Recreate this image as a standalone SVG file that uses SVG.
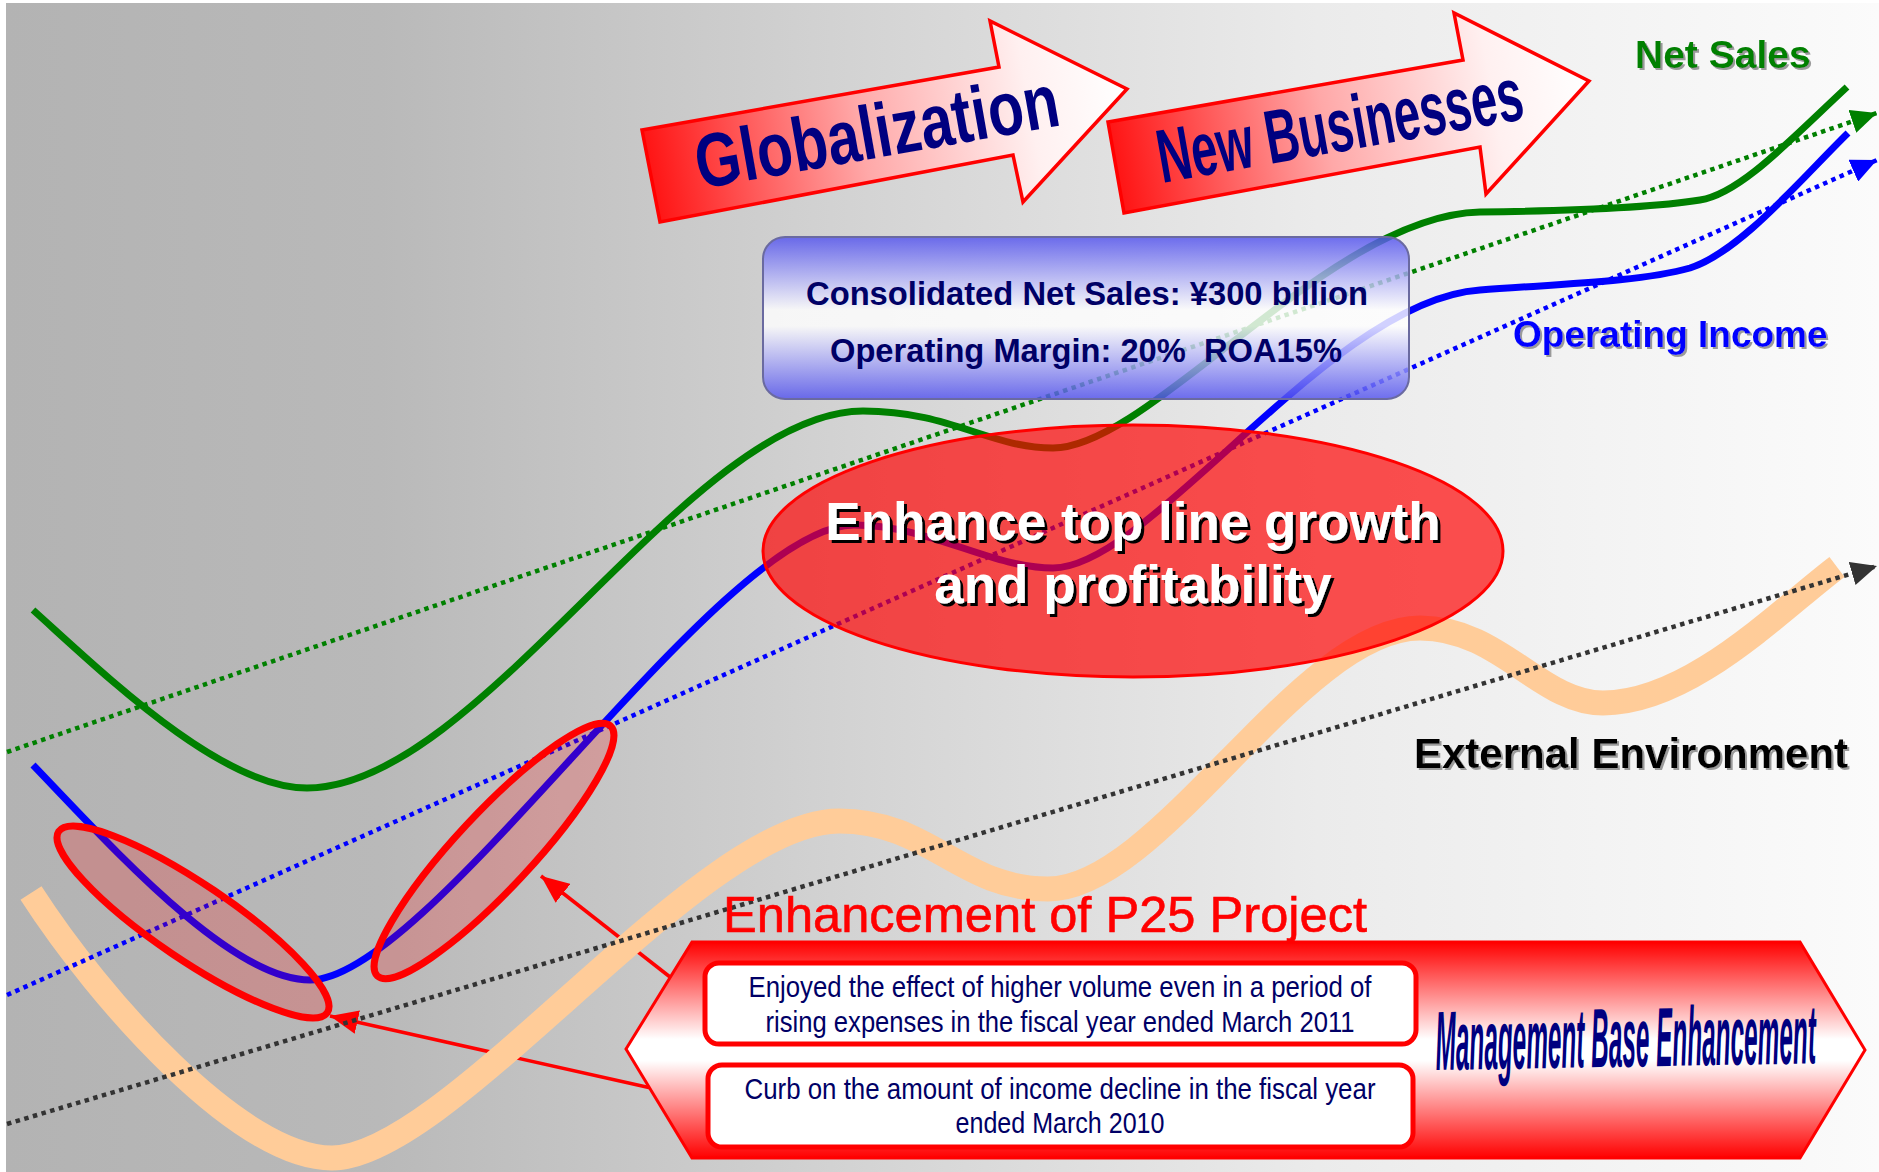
<svg xmlns="http://www.w3.org/2000/svg" width="1879" height="1172" viewBox="0 0 1879 1172">
<defs>
<linearGradient id="bg" x1="0" y1="0" x2="1" y2="0">
<stop offset="0" stop-color="#b3b3b3"/><stop offset="0.2" stop-color="#b9b9b9"/><stop offset="0.45" stop-color="#d3d3d3"/><stop offset="0.7" stop-color="#ebebeb"/><stop offset="1" stop-color="#fbfbfb"/>
</linearGradient>
<linearGradient id="arrG1" gradientUnits="userSpaceOnUse" x1="645" y1="180" x2="1127" y2="95">
<stop offset="0" stop-color="#ff1010"/><stop offset="0.45" stop-color="#ffa8a8"/><stop offset="0.8" stop-color="#fff0f0"/><stop offset="1" stop-color="#ffffff"/>
</linearGradient>
<linearGradient id="arrG2" gradientUnits="userSpaceOnUse" x1="1110" y1="170" x2="1589" y2="81">
<stop offset="0" stop-color="#ff1010"/><stop offset="0.45" stop-color="#ffa8a8"/><stop offset="0.8" stop-color="#fff0f0"/><stop offset="1" stop-color="#ffffff"/>
</linearGradient>
<linearGradient id="boxG" x1="0" y1="0" x2="0" y2="1">
<stop offset="0" stop-color="#5252ee"/><stop offset="0.45" stop-color="#ffffff"/><stop offset="0.55" stop-color="#ffffff"/><stop offset="1" stop-color="#5252ee"/>
</linearGradient>
<linearGradient id="hexG" x1="0" y1="0" x2="0" y2="1">
<stop offset="0" stop-color="#ff0000"/><stop offset="0.45" stop-color="#ffffff"/><stop offset="0.55" stop-color="#ffffff"/><stop offset="1" stop-color="#ff0000"/>
</linearGradient>
<marker id="mG" markerUnits="userSpaceOnUse" markerWidth="28" markerHeight="24" refX="26" refY="12" orient="auto"><path d="M0,0 L26,12 L0,24 z" fill="#008000"/></marker>
<marker id="mB" markerUnits="userSpaceOnUse" markerWidth="28" markerHeight="24" refX="26" refY="12" orient="auto"><path d="M0,0 L26,12 L0,24 z" fill="#0000ff"/></marker>
<marker id="mK" markerUnits="userSpaceOnUse" markerWidth="28" markerHeight="24" refX="26" refY="12" orient="auto"><path d="M0,0 L26,12 L0,24 z" fill="#333333"/></marker>
<marker id="mR" markerUnits="userSpaceOnUse" markerWidth="30" markerHeight="24" refX="28" refY="12" orient="auto"><path d="M0,0 L28,12 L0,24 z" fill="#ff0000"/></marker>
<filter id="shGray" x="-5%" y="-20%" width="110%" height="140%"><feDropShadow dx="2" dy="2" stdDeviation="0.6" flood-color="#9a9a9a"/></filter>
<filter id="shBlack" x="-5%" y="-20%" width="110%" height="140%"><feDropShadow dx="3" dy="3" stdDeviation="0" flood-color="#000000"/></filter>
</defs>
<style>
.curve{fill:none;stroke-linecap:butt}
.dot{fill:none;stroke-width:4.5;stroke-dasharray:4.5 4.5}
.hl{fill:#ff0000;fill-opacity:0.2;stroke:#ff0000;stroke-width:7}
.callout{fill:none;stroke:#ff0000;stroke-width:3.5;marker-end:url(#mR)}
.lbl{font-family:"Liberation Sans",Arial,sans-serif;font-weight:bold}
.navy{fill:#000066}
.inner{fill:#ffffff;stroke:#ff0000;stroke-width:5}
.small{font-family:"Liberation Sans",Arial,sans-serif;font-size:29px;fill:#000066;text-anchor:middle}
</style>
<rect x="0" y="0" width="1879" height="1172" fill="#ffffff"/>
<rect x="6" y="3" width="1873" height="1169" fill="url(#bg)"/>

<g id="callouts">
<line class="callout" x1="670" y1="977" x2="541" y2="876"/>
<line class="callout" x1="651" y1="1088" x2="330" y2="1016"/>
</g>

<g id="series">
<path id="external-curve" class="curve" stroke="#ffcc99" stroke-width="25" d="M31,893 C100,1000 240,1158 332,1158 C450,1158 700,821 839,821 C930,821 960,889 1048,889 C1160,889 1300,628 1420,628 C1500,628 1540,703 1603,703 C1690,703 1780,610 1837,567"/>
<path id="net-sales-curve" class="curve" stroke="#008000" stroke-width="7" d="M33,610 C100,670 220,788 307,788 C480,788 690,411 863,411 C950,411 990,448 1053,448 C1150,448 1330,215 1480,212 C1560,211 1650,208 1700,200 C1740,194 1790,140 1847,87"/>
<path id="op-income-curve" class="curve" stroke="#0000ff" stroke-width="7" d="M33,765 C110,845 230,980 310,980 C430,980 720,525 854,525 C930,525 990,568 1053,568 C1150,568 1330,300 1480,290 C1560,284 1640,282 1690,268 C1740,252 1800,180 1848,133"/>
</g>

<g id="trends">
<line class="dot" stroke="#008000" x1="7" y1="752" x2="1877" y2="113" marker-end="url(#mG)"/>
<line class="dot" stroke="#0000ff" x1="7" y1="995" x2="1877" y2="160" marker-end="url(#mB)"/>
<line class="dot" stroke="#333333" x1="7" y1="1124" x2="1877" y2="566" marker-end="url(#mK)"/>
</g>

<g id="highlight-2010">
<ellipse class="hl" cx="193" cy="922" rx="162" ry="38" transform="rotate(34 193 922)"/>
</g>
<g id="highlight-2011">
<ellipse class="hl" cx="494" cy="851" rx="171" ry="38" transform="rotate(-47 494 851)"/>
</g>

<g id="p25">
<text x="723" y="932" font-family="Liberation Sans, Arial, sans-serif" font-size="50" fill="#ff0000" stroke="#ff0000" stroke-width="0.6" textLength="644" lengthAdjust="spacingAndGlyphs">Enhancement of P25 Project</text>
<polygon points="626,1049 692,942 1800,942 1865,1050 1800,1158 692,1158" fill="url(#hexG)" stroke="#ff0000" stroke-width="3"/>
<g id="box-2011">
<rect class="inner" x="705" y="963" width="711" height="81" rx="14"/>
<text class="small" x="1060" y="997" textLength="623" lengthAdjust="spacingAndGlyphs">Enjoyed the effect of higher volume even in a period of</text>
<text class="small" x="1060" y="1032" textLength="589" lengthAdjust="spacingAndGlyphs">rising expenses in the fiscal year ended March 2011</text>
</g>
<g id="box-2010">
<rect class="inner" x="708" y="1065" width="705" height="82" rx="14"/>
<text class="small" x="1060" y="1099" textLength="631" lengthAdjust="spacingAndGlyphs">Curb on the amount of income decline in the fiscal year</text>
<text class="small" x="1060" y="1133" textLength="209" lengthAdjust="spacingAndGlyphs">ended March 2010</text>
</g>
<text class="lbl" x="0" y="0" font-size="84" font-style="italic" fill="#000080" transform="translate(1436 1070) rotate(-1) scale(0.29 1)">Management Base Enhancement</text>
</g>

<g id="goal-ellipse">
<ellipse cx="1133" cy="551" rx="370" ry="126" fill="#ff0000" fill-opacity="0.68" stroke="#ff0000" stroke-width="3"/>
<text class="lbl" x="1133" y="540" font-size="53" fill="#ffffff" text-anchor="middle" filter="url(#shBlack)">Enhance top line growth</text>
<text class="lbl" x="1133" y="603" font-size="53" fill="#ffffff" text-anchor="middle" filter="url(#shBlack)">and profitability</text>
</g>

<g id="target-box">
<rect x="763" y="237" width="646" height="162" rx="22" fill="url(#boxG)" fill-opacity="0.82" stroke="#6a6aa0" stroke-width="2"/>
<text class="lbl navy" x="1087" y="305" font-size="33" text-anchor="middle" textLength="562" lengthAdjust="spacingAndGlyphs">Consolidated Net Sales: ¥300 billion</text>
<text class="lbl navy" x="1086" y="362" font-size="33" text-anchor="middle" textLength="512" lengthAdjust="spacingAndGlyphs" style="white-space:pre">Operating Margin: 20%  ROA15%</text>
</g>

<g id="globalization">
<polygon points="642,130 999,67 990,21 1127,89 1023,202 1013,155 660,222" fill="url(#arrG1)" stroke="#ff0000" stroke-width="3.5"/>
<text class="lbl" x="700" y="189" font-size="76" fill="#000080" textLength="368" lengthAdjust="spacingAndGlyphs" transform="rotate(-10 700 189)">Globalization</text>
</g>
<g id="new-businesses">
<polygon points="1108,122 1463,60 1454,13 1589,81 1486,194 1480,147 1124,213" fill="url(#arrG2)" stroke="#ff0000" stroke-width="3.5"/>
<text class="lbl" x="1162" y="183" font-size="76" fill="#000080" textLength="370" lengthAdjust="spacingAndGlyphs" transform="rotate(-10 1162 183)">New Businesses</text>
</g>

<g id="labels">
<text class="lbl" x="1635" y="68" font-size="39" fill="#008000" filter="url(#shGray)">Net Sales</text>
<text class="lbl" x="1513" y="347" font-size="37" fill="#0000ff" filter="url(#shGray)">Operating Income</text>
<text class="lbl" x="1414" y="768" font-size="42" fill="#000000" filter="url(#shGray)">External Environment</text>
</g>
</svg>
